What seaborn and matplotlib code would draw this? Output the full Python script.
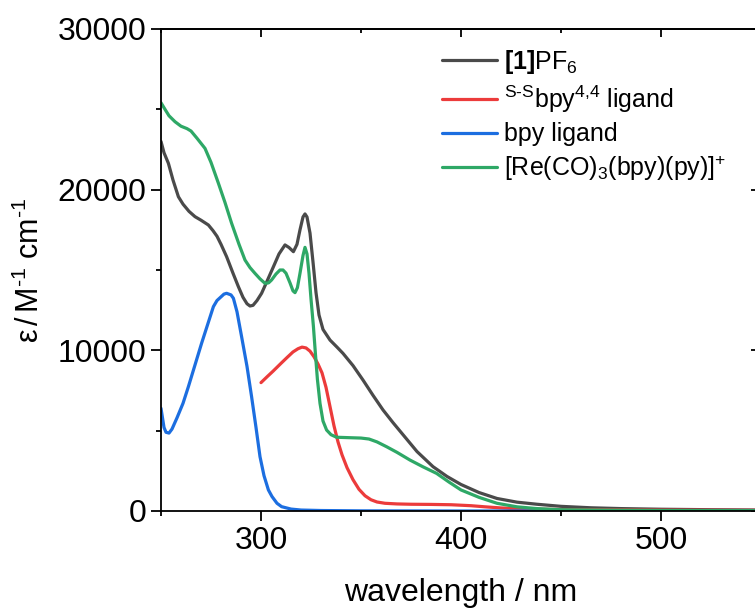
import numpy as np
import pandas as pd
import matplotlib
matplotlib.use("Agg")
import matplotlib.pyplot as plt
import seaborn as sns
from matplotlib.ticker import MultipleLocator

# ---- data ----
wl_c1 = [250, 251.5, 253.7, 256, 258.7, 261, 264, 267, 270, 273.7, 276, 278, 280, 282.8, 286, 288.7,
         291, 293, 294.5, 296, 298, 300.3, 303, 306.2, 309, 312, 314, 316.2, 318, 319.5, 321, 322,
         323, 324.5, 326, 327.5, 329, 331, 334.5, 338, 341, 346, 351, 356, 361, 366, 371, 378, 386,
         393, 400, 409, 418, 428, 438, 450, 465, 480, 500, 525, 550]
eps_c1 = [23000, 22300, 21640, 20600, 19560, 19100, 18650, 18320, 18100, 17800, 17450, 17100, 16600,
          15830, 14800, 13960, 13300, 12900, 12760, 12800, 13100, 13550, 14300, 15200, 16000, 16560,
          16400, 16140, 16600, 17500, 18300, 18490, 18300, 17300, 15500, 13600, 12200, 11300, 10640,
          10200, 9810, 9050, 8150, 7200, 6290, 5500, 4750, 3700, 2760, 2150, 1650, 1150, 780, 550,
          420, 290, 200, 150, 110, 80, 60]

wl_ss = [300, 303, 306, 310, 313, 316, 318.5, 320.5, 322.5, 324.5, 326.5, 328.5, 330.5, 332.5, 334.5,
         336.5, 338.5, 340.5, 343, 346, 349, 352, 355, 358, 362, 368, 375, 385, 395, 405, 412, 420,
         430, 450, 475, 500, 550]
eps_ss = [7990, 8350, 8700, 9190, 9550, 9900, 10100, 10200, 10150, 9950, 9600, 9150, 8600, 7700, 6500,
          5300, 4300, 3500, 2700, 1950, 1350, 950, 700, 560, 480, 440, 420, 410, 390, 330, 260, 190,
          130, 90, 70, 55, 40]

wl_bpy = [250, 251.5, 252.5, 254, 255.5, 258, 261, 263.7, 270.3, 276.2, 278, 281.5, 282.8, 285, 286.2,
          288, 290.3, 293, 295.3, 297.5, 299.5, 301.5, 303.7, 305.5, 308, 310.3, 315, 320, 330, 350,
          400, 450, 500, 550]
eps_bpy = [6390, 5200, 4900, 4850, 5100, 5800, 6700, 7740, 10440, 12720, 13100, 13500, 13550, 13450,
           13240, 12400, 10850, 9000, 7110, 5200, 3380, 2200, 1310, 900, 480, 270, 120, 60, 30, 10,
           0, 0, 0, 0]

wl_re = [250, 252, 254, 257, 260, 263, 265, 268, 272, 275, 278.7, 282, 285.3, 289, 292, 294.5, 297,
         299.5, 302, 303.8, 305.3, 307.5, 309.5, 311, 312.5, 314.5, 316, 317, 318.2, 319.5, 321, 322,
         323, 324, 325, 326.2, 327.2, 328.2, 329.5, 331, 332.8, 335, 337.8, 345, 350, 354, 358, 362.8,
         368, 374.5, 381, 387.8, 394, 400, 409, 418, 428, 438, 450, 475, 500, 550]
eps_re = [25410, 25000, 24600, 24230, 23950, 23800, 23650, 23200, 22570, 21700, 20400, 19200, 17910,
          16600, 15620, 15150, 14790, 14450, 14170, 14200, 14380, 14750, 15000, 15000, 14800, 14200,
          13700, 13590, 13900, 14800, 15900, 16410, 16000, 14800, 13200, 11500, 9800, 8200, 6700, 5600,
          5040, 4750, 4590, 4560, 4540, 4480, 4300, 4000, 3650, 3170, 2750, 2340, 1800, 1310, 850, 480,
          260, 150, 80, 50, 30, 20]

labels = [r"$\mathbf{[1]}$PF$_6$",
          r"$^{\mathrm{S}\text{-}\mathrm{S}}$bpy$^{4{,}4}$ ligand",
          "bpy ligand",
          r"[Re(CO)$_3$(bpy)(py)]$^{+}$"]
colors = ["#4a4a4a", "#ec3b3b", "#1c6ee0", "#2ea866"]

df = pd.concat([
    pd.DataFrame({"wl": wl_c1, "eps": eps_c1, "s": labels[0]}),
    pd.DataFrame({"wl": wl_ss, "eps": eps_ss, "s": labels[1]}),
    pd.DataFrame({"wl": wl_bpy, "eps": eps_bpy, "s": labels[2]}),
    pd.DataFrame({"wl": wl_re, "eps": eps_re, "s": labels[3]}),
], ignore_index=True)

sns.set_style("ticks")
plt.rcParams['font.family'] = ['Liberation Sans', 'DejaVu Sans']
plt.rcParams['mathtext.fontset'] = 'custom'
plt.rcParams['mathtext.rm'] = 'Liberation Sans'
plt.rcParams['mathtext.it'] = 'Liberation Sans:italic'
plt.rcParams['mathtext.bf'] = 'Liberation Sans:bold'
for k in ['text.color', 'axes.labelcolor', 'xtick.color', 'ytick.color', 'axes.edgecolor']:
    plt.rcParams[k] = 'black'

fig = plt.figure(figsize=(7.55, 6.09), dpi=100)
W, H = 755, 609
ax = fig.add_axes([161 / W, 1 - 511 / H, 600 / W, (511 - 29) / H])

sns.lineplot(data=df, x="wl", y="eps", hue="s", hue_order=labels, palette=colors,
             sort=False, linewidth=2.3, ax=ax, estimator=None)

ax.set_xlim(250, 550)
ax.set_ylim(0, 30000)
ax.xaxis.set_major_locator(MultipleLocator(100))
ax.xaxis.set_minor_locator(MultipleLocator(50))
ax.yaxis.set_major_locator(MultipleLocator(10000))
ax.yaxis.set_minor_locator(MultipleLocator(5000))
for s in ax.spines.values():
    s.set_linewidth(1.3)
    s.set_color("black")
    s.set_visible(True)

ax.tick_params(which="major", direction="out", length=7, width=1.3, labelsize=23,
               top=False, right=False, colors="black")
ax.tick_params(which="minor", direction="out", length=3.5, width=1.3, top=False, right=False)

ax2 = ax.secondary_xaxis("top")
ax2.xaxis.set_major_locator(MultipleLocator(100))
ax2.xaxis.set_minor_locator(MultipleLocator(50))
ax2.tick_params(which="major", direction="in", length=6, width=1.3, labeltop=False)
ax2.tick_params(which="minor", direction="in", length=3, width=1.3)
ax2.spines["top"].set_linewidth(1.3)
ay2 = ax.secondary_yaxis("right")
ay2.yaxis.set_major_locator(MultipleLocator(10000))
ay2.yaxis.set_minor_locator(MultipleLocator(5000))
ay2.tick_params(which="major", direction="in", length=7, width=1.3, labelright=False)
ay2.tick_params(which="minor", direction="in", length=3, width=1.3)

ax.set_xlabel("wavelength / nm", fontsize=23, labelpad=16)
ax.set_ylabel(r"ε$\,$/$\,$M$^{\text{-}1}$ cm$^{\text{-}1}$", fontsize=22, labelpad=8)

ax.legend(loc="upper left", bbox_to_anchor=(442 / W, 1 - 48 / H), bbox_transform=fig.transFigure,
          frameon=False, fontsize=18, handlelength=2.2, handletextpad=0.3,
          labelspacing=0.3, borderpad=0, borderaxespad=0)

fig.savefig("out.png", dpi=100)
